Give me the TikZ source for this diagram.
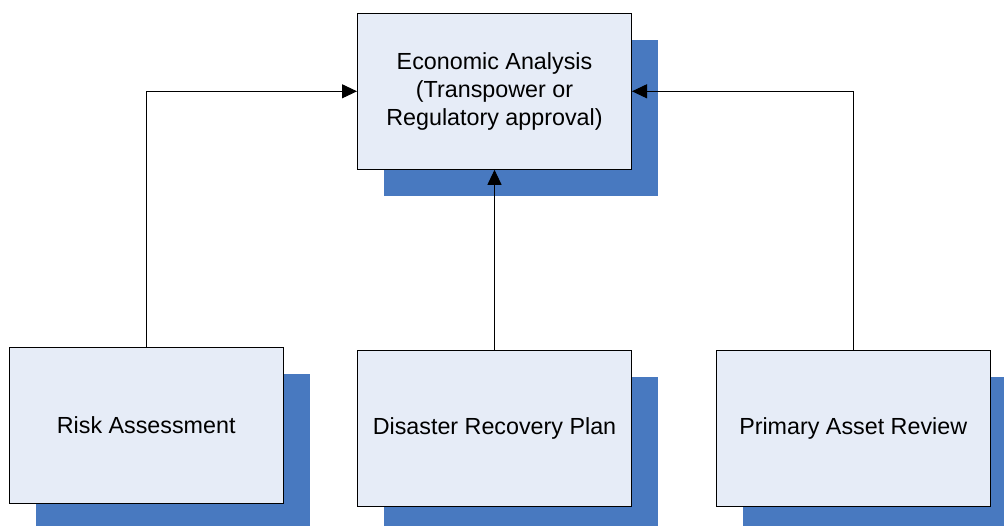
\documentclass[tikz,border=0pt]{standalone}
\usepackage{fontspec}
\setmainfont{Liberation Sans}
\usetikzlibrary{arrows.meta}
\definecolor{boxfill}{RGB}{230,236,247}
\definecolor{shadowblue}{RGB}{72,121,192}
\tikzset{
  procbox/.style={draw=black, line width=1pt, fill=boxfill, minimum width=274pt, minimum height=156pt, inner sep=0pt, align=center, font=\fontsize{23.3}{28}\selectfont},
  shadowbox/.style={fill=shadowblue, draw=none, minimum width=274pt, minimum height=156pt, inner sep=0pt},
  conn/.style={draw=black, line width=1pt, -{Triangle[length=15pt,width=14pt]}}
}
\begin{document}
\begin{tikzpicture}[x=1pt,y=-1pt]
\useasboundingbox (0,0) rectangle (1004,526);
% shadows
\node[shadowbox] (econS) at (521,118) {};
\node[shadowbox] (riskS) at (172.5,452) {};
\node[shadowbox] (drpS) at (521,455) {};
\node[shadowbox] (parS) at (879.5,455) {};
% boxes
\node[procbox] (econ) at (494.5,91.3) {Economic Analysis\\(Transpower or\\Regulatory approval)};
\node[procbox] (risk) at (146.2,425.6) {Risk Assessment};
\node[procbox] (drp) at (494.5,428.5) {Disaster Recovery Plan};
\node[procbox] (par) at (853.2,428.7) {Primary Asset Review};
% connectors
\draw[conn] (risk.north) |- (econ.west);
\draw[conn] (drp.north) -- (econ.south);
\draw[conn] (par.north) |- (econ.east);
\end{tikzpicture}
\end{document}
